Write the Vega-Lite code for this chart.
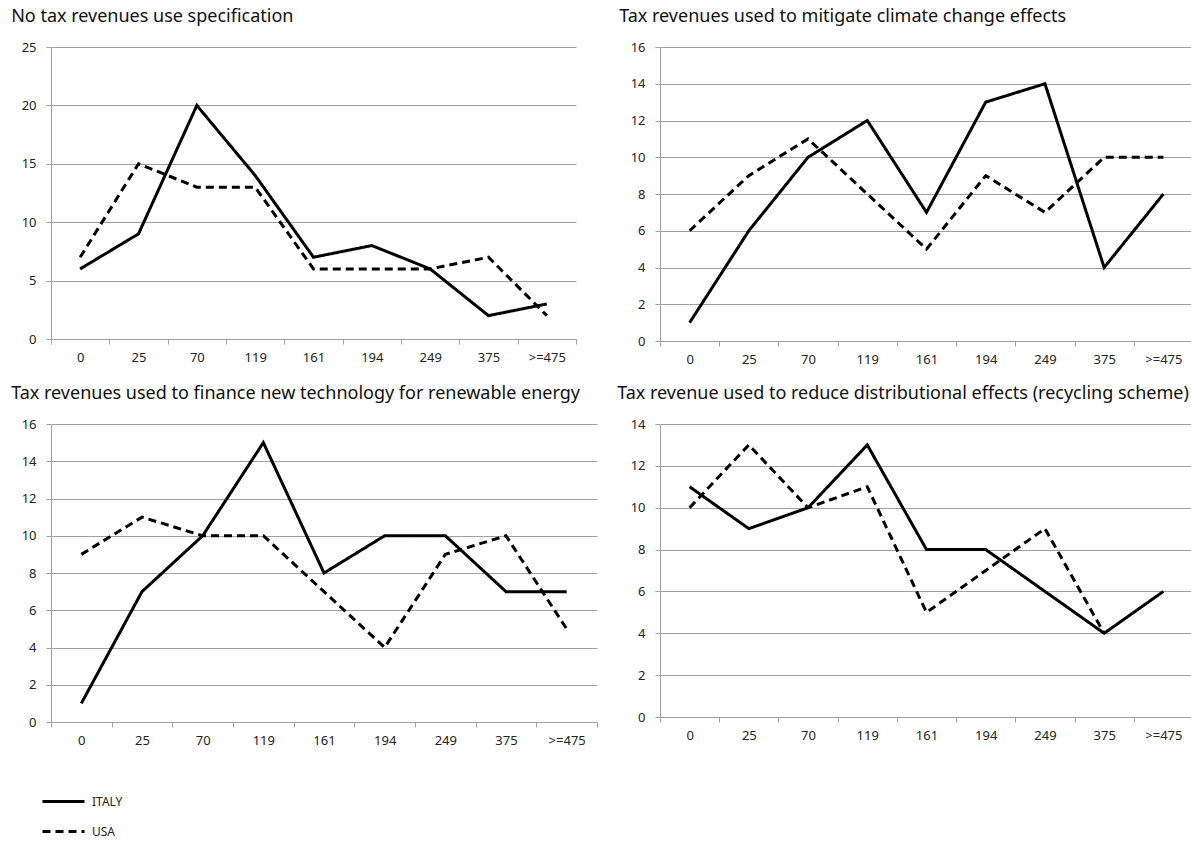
{
  "$schema": "https://vega.github.io/schema/vega-lite/v6.json",
  "padding": {"left": 11, "top": 8, "right": 0, "bottom": 0},
  "background": "white",
  "datasets": {
    "d": [
      {"panel": "A", "cat": "0", "country": "ITALY", "value": 6},
      {"panel": "A", "cat": "25", "country": "ITALY", "value": 9},
      {"panel": "A", "cat": "70", "country": "ITALY", "value": 20},
      {"panel": "A", "cat": "119", "country": "ITALY", "value": 14},
      {"panel": "A", "cat": "161", "country": "ITALY", "value": 7},
      {"panel": "A", "cat": "194", "country": "ITALY", "value": 8},
      {"panel": "A", "cat": "249", "country": "ITALY", "value": 6},
      {"panel": "A", "cat": "375", "country": "ITALY", "value": 2},
      {"panel": "A", "cat": ">=475", "country": "ITALY", "value": 3},
      {"panel": "A", "cat": "0", "country": "USA", "value": 7},
      {"panel": "A", "cat": "25", "country": "USA", "value": 15},
      {"panel": "A", "cat": "70", "country": "USA", "value": 13},
      {"panel": "A", "cat": "119", "country": "USA", "value": 13},
      {"panel": "A", "cat": "161", "country": "USA", "value": 6},
      {"panel": "A", "cat": "194", "country": "USA", "value": 6},
      {"panel": "A", "cat": "249", "country": "USA", "value": 6},
      {"panel": "A", "cat": "375", "country": "USA", "value": 7},
      {"panel": "A", "cat": ">=475", "country": "USA", "value": 2},
      {"panel": "B", "cat": "0", "country": "ITALY", "value": 1},
      {"panel": "B", "cat": "25", "country": "ITALY", "value": 6},
      {"panel": "B", "cat": "70", "country": "ITALY", "value": 10},
      {"panel": "B", "cat": "119", "country": "ITALY", "value": 12},
      {"panel": "B", "cat": "161", "country": "ITALY", "value": 7},
      {"panel": "B", "cat": "194", "country": "ITALY", "value": 13},
      {"panel": "B", "cat": "249", "country": "ITALY", "value": 14},
      {"panel": "B", "cat": "375", "country": "ITALY", "value": 4},
      {"panel": "B", "cat": ">=475", "country": "ITALY", "value": 8},
      {"panel": "B", "cat": "0", "country": "USA", "value": 6},
      {"panel": "B", "cat": "25", "country": "USA", "value": 9},
      {"panel": "B", "cat": "70", "country": "USA", "value": 11},
      {"panel": "B", "cat": "119", "country": "USA", "value": 8},
      {"panel": "B", "cat": "161", "country": "USA", "value": 5},
      {"panel": "B", "cat": "194", "country": "USA", "value": 9},
      {"panel": "B", "cat": "249", "country": "USA", "value": 7},
      {"panel": "B", "cat": "375", "country": "USA", "value": 10},
      {"panel": "B", "cat": ">=475", "country": "USA", "value": 10},
      {"panel": "C", "cat": "0", "country": "ITALY", "value": 1},
      {"panel": "C", "cat": "25", "country": "ITALY", "value": 7},
      {"panel": "C", "cat": "70", "country": "ITALY", "value": 10},
      {"panel": "C", "cat": "119", "country": "ITALY", "value": 15},
      {"panel": "C", "cat": "161", "country": "ITALY", "value": 8},
      {"panel": "C", "cat": "194", "country": "ITALY", "value": 10},
      {"panel": "C", "cat": "249", "country": "ITALY", "value": 10},
      {"panel": "C", "cat": "375", "country": "ITALY", "value": 7},
      {"panel": "C", "cat": ">=475", "country": "ITALY", "value": 7},
      {"panel": "C", "cat": "0", "country": "USA", "value": 9},
      {"panel": "C", "cat": "25", "country": "USA", "value": 11},
      {"panel": "C", "cat": "70", "country": "USA", "value": 10},
      {"panel": "C", "cat": "119", "country": "USA", "value": 10},
      {"panel": "C", "cat": "161", "country": "USA", "value": 7},
      {"panel": "C", "cat": "194", "country": "USA", "value": 4},
      {"panel": "C", "cat": "249", "country": "USA", "value": 9},
      {"panel": "C", "cat": "375", "country": "USA", "value": 10},
      {"panel": "C", "cat": ">=475", "country": "USA", "value": 5},
      {"panel": "D", "cat": "0", "country": "ITALY", "value": 11},
      {"panel": "D", "cat": "25", "country": "ITALY", "value": 9},
      {"panel": "D", "cat": "70", "country": "ITALY", "value": 10},
      {"panel": "D", "cat": "119", "country": "ITALY", "value": 13},
      {"panel": "D", "cat": "161", "country": "ITALY", "value": 8},
      {"panel": "D", "cat": "194", "country": "ITALY", "value": 8},
      {"panel": "D", "cat": "249", "country": "ITALY", "value": 6},
      {"panel": "D", "cat": "375", "country": "ITALY", "value": 4},
      {"panel": "D", "cat": ">=475", "country": "ITALY", "value": 6},
      {"panel": "D", "cat": "0", "country": "USA", "value": 10},
      {"panel": "D", "cat": "25", "country": "USA", "value": 13},
      {"panel": "D", "cat": "70", "country": "USA", "value": 10},
      {"panel": "D", "cat": "119", "country": "USA", "value": 11},
      {"panel": "D", "cat": "161", "country": "USA", "value": 5},
      {"panel": "D", "cat": "194", "country": "USA", "value": 7},
      {"panel": "D", "cat": "249", "country": "USA", "value": 9},
      {"panel": "D", "cat": "375", "country": "USA", "value": 4}
    ]
  },
  "data": {"name": "d"},
  "config": {
    "view": {"stroke": null},
    "font": "Noto Sans",
    "axis": {
      "gridColor": "#a0a0a0",
      "domainColor": "#a0a0a0",
      "tickColor": "#a0a0a0",
      "labelColor": "#222222",
      "labelFontSize": 13,
      "labelFont": "Noto Sans",
      "title": null
    },
    "axisX": {"grid": false, "tickBand": "extent", "tickSize": 5, "labelAngle": 0, "labelPadding": 7, "labelFontSize": 13},
    "axisY": {"grid": true, "tickSize": 5, "labelPadding": 10, "labelFontSize": 13},
    "title": {"anchor": "start", "fontSize": 18, "fontWeight": "normal", "font": "Noto Sans", "color": "#111111", "offset": 15},
    "line": {"strokeWidth": 3, "color": "black"}
  },
  "vconcat": [
    {
      "spacing": 42,
      "hconcat": [
        {
          "width": 525, "height": 292,
          "title": {"text": "No tax revenues use specification", "dx": -10},
          "transform": [{"filter": "datum.panel === 'A'"}],
          "mark": {"type": "line"},
          "encoding": {
            "x": {"field": "cat", "type": "ordinal", "sort": ["0","25","70","119","161","194","249","375",">=475"], "scale": {"type": "band", "paddingInner": 0, "paddingOuter": 0}, "bandPosition": 0.5},
            "y": {"field": "value", "type": "quantitative", "scale": {"domain": [0, 25]}, "axis": {"values": [0,5,10,15,20,25]}},
            "strokeDash": {"field": "country", "type": "nominal", "scale": {"domain": ["ITALY","USA"], "range": [[1,0],[8,5]]}, "legend": null}
          }
        },
        {
          "width": 533, "height": 294,
          "title": {"text": "Tax revenues used to mitigate climate change effects", "dx": -11},
          "transform": [{"filter": "datum.panel === 'B'"}],
          "mark": {"type": "line"},
          "encoding": {
            "x": {"field": "cat", "type": "ordinal", "sort": ["0","25","70","119","161","194","249","375",">=475"], "scale": {"type": "band", "paddingInner": 0, "paddingOuter": 0}, "bandPosition": 0.5},
            "y": {"field": "value", "type": "quantitative", "scale": {"domain": [0, 16]}, "axis": {"values": [0,2,4,6,8,10,12,14,16]}},
            "strokeDash": {"field": "country", "type": "nominal", "scale": {"domain": ["ITALY","USA"], "range": [[1,0],[8,5]]}, "legend": null}
          }
        }
      ]
    },
    {
      "spacing": 19,
      "hconcat": [
        {
          "width": 546, "height": 298,
          "title": {"text": "Tax revenues used to finance new technology for renewable energy", "dx": -10},
          "transform": [{"filter": "datum.panel === 'C'"}],
          "mark": {"type": "line"},
          "encoding": {
            "x": {"field": "cat", "type": "ordinal", "sort": ["0","25","70","119","161","194","249","375",">=475"], "scale": {"type": "band", "paddingInner": 0, "paddingOuter": 0}, "bandPosition": 0.5},
            "y": {"field": "value", "type": "quantitative", "scale": {"domain": [0, 16]}, "axis": {"values": [0,2,4,6,8,10,12,14,16]}},
            "strokeDash": {"field": "country", "type": "nominal", "scale": {"domain": ["ITALY","USA"], "range": [[1,0],[8,5]]},
              "legend": {"orient": "none", "legendX": -4, "legendY": 361, "title": null, "direction": "vertical", "padding": 0,
                "symbolType": "M-1.4,0H1.4", "symbolSize": 900, "symbolStrokeWidth": 3, "symbolStrokeColor": "black", "symbolFillColor": "transparent",
                "labelOffset": 12, "labelFontSize": 12, "labelFont": "Noto Sans", "labelColor": "#222222", "rowPadding": 7}}
          }
        },
        {
          "width": 533, "height": 293,
          "title": {"text": "Tax revenue used to reduce distributional effects (recycling scheme)", "dx": -13},
          "transform": [{"filter": "datum.panel === 'D'"}],
          "mark": {"type": "line"},
          "encoding": {
            "x": {"field": "cat", "type": "ordinal", "sort": ["0","25","70","119","161","194","249","375",">=475"], "scale": {"type": "band", "paddingInner": 0, "paddingOuter": 0}, "bandPosition": 0.5},
            "y": {"field": "value", "type": "quantitative", "scale": {"domain": [0, 14]}, "axis": {"values": [0,2,4,6,8,10,12,14]}},
            "strokeDash": {"field": "country", "type": "nominal", "scale": {"domain": ["ITALY","USA"], "range": [[1,0],[8,5]]}, "legend": null}
          }
        }
      ]
    }
  ],
  "spacing": 19,
  "resolve": {"scale": {"strokeDash": "independent"}, "legend": {"strokeDash": "independent"}}
}
